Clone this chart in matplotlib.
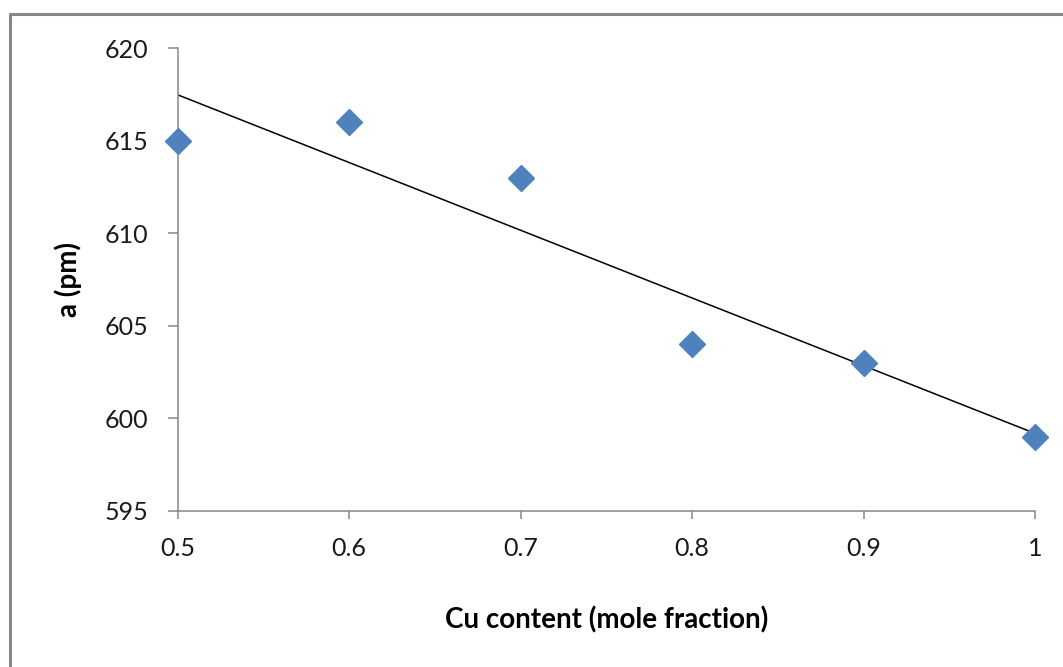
import numpy as np
import matplotlib
matplotlib.use("Agg")
import matplotlib.pyplot as plt
from matplotlib.lines import Line2D

cu_content = [0.5, 0.6, 0.7, 0.8, 0.9, 1.0]
lattice_a = [615, 616, 613, 604, 603, 599]
x_ticks = [0.5, 0.6, 0.7, 0.8, 0.9, 1.0]
x_labels = ["0.5", "0.6", "0.7", "0.8", "0.9", "1"]
y_ticks = [595, 600, 605, 610, 615, 620]

plt.rcParams['font.family'] = ['Lato', 'DejaVu Sans']

fig = plt.figure(figsize=(10.63, 6.67), dpi=100)
ax = fig.add_axes([177.5 / 1063, 1 - 511 / 667, (1035 - 177.5) / 1063, (511 - 48) / 667])

axis_gray = "#868686"

# linear trendline
slope, intercept = np.polyfit(cu_content, lattice_a, 1)
xs = np.array([cu_content[0], cu_content[-1]])
ax.plot(xs, slope * xs + intercept, color="black", lw=1.1, zorder=2)

ax.plot(cu_content, lattice_a, linestyle="none", marker="D", ms=13,
        color="#4F81BD", mec="#4F81BD", zorder=3, clip_on=False)

ax.set_xlim(0.5, 1.0)
ax.set_ylim(595, 620)
ax.set_xticks(x_ticks)
ax.set_xticklabels(x_labels)
ax.set_yticks(y_ticks)

for s in ["top", "right"]:
    ax.spines[s].set_visible(False)
for s in ["left", "bottom"]:
    ax.spines[s].set_color(axis_gray)
    ax.spines[s].set_linewidth(1.1)

ax.tick_params(axis="both", direction="out", color=axis_gray, width=1.1,
               labelsize=18, labelcolor="#1a1a1a")
ax.tick_params(axis="x", length=6, pad=13)
ax.tick_params(axis="y", length=7, pad=14)

ax.set_xlabel("Cu content (mole fraction)", fontsize=20, fontweight="bold")
ax.set_ylabel("a (pm)", fontsize=20, fontweight="bold")
ax.xaxis.set_label_coords(0.5, (511 - 620) / 463)
ax.yaxis.set_label_coords((68 - 177.5) / 857.5, 0.5)
ax.xaxis.label.set_va("center")
ax.yaxis.label.set_va("center")

# outer chart border
fx0, fy1 = 9.5 / 1063, 1 - 13.5 / 667
fig.add_artist(Line2D([fx0, fx0, 1.02], [-0.02, fy1, fy1],
                      transform=fig.transFigure, color="#878787", lw=2.2))

fig.savefig("out.png", dpi=100)
